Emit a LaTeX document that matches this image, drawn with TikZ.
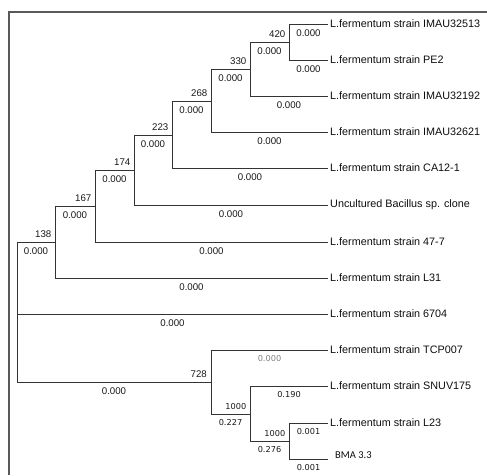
\documentclass[tikz,border=0pt]{standalone}
\usepackage{fontspec}
\setmainfont{Liberation Sans}
\newfontfamily\dvfont{DejaVu Sans}
\newfontfamily\cbfont{Carlito}
\begin{document}
\begin{tikzpicture}[x=1pt,y=-1pt,
  br/.style={draw=black!80, line width=0.9pt},
  bl/.style={pos=0.75, anchor=center, yshift=-9pt, inner sep=0pt, font=\fontsize{9.7}{10}\selectfont, text=black!90},
  bld/.style={pos=0.75, anchor=center, yshift=-9pt, inner sep=0pt, font=\dvfont\fontsize{8.2}{9}\selectfont, text=black!90},
  bs/.style={anchor=east, xshift=-3.5pt, yshift=7.5pt, inner sep=0pt, font=\fontsize{9.7}{10}\selectfont, text=black!90},
  bsd/.style={anchor=east, xshift=-3.5pt, yshift=7.5pt, inner sep=0pt, font=\dvfont\fontsize{8.2}{9}\selectfont, text=black!90},
  leaf/.style={anchor=west, xshift=2pt, inner sep=0pt, font=\fontsize{10.8}{12}\selectfont, text=black!95}]
\useasboundingbox (0,0) rectangle (487,475);
% frame
\draw[line width=1.1pt, black!65] (487,12) -- (9,12) -- (9,475);
% internal nodes
\coordinate (n420) at (289,42);
\coordinate (n330) at (250,69);
\coordinate (n268) at (211,101);
\coordinate (n223) at (172,135);
\coordinate (n174) at (134,170);
\coordinate (n167) at (95,206);
\coordinate (n138) at (55,242);
\coordinate (root) at (17,314);
\coordinate (n728) at (211,382);
\coordinate (na) at (250,414);
\coordinate (nb) at (289,441);
% leaves
\coordinate (l1) at (328,24);
\coordinate (l2) at (328,60);
\coordinate (l3) at (328,96);
\coordinate (l4) at (328,132);
\coordinate (l5) at (328,168);
\coordinate (l6) at (328,205);
\coordinate (l7) at (328,242);
\coordinate (l8) at (328,278);
\coordinate (l9) at (328,314);
\coordinate (l10) at (328,350);
\coordinate (l11) at (328,386);
\coordinate (l12) at (328,423);
\coordinate (l13) at (328,459);
% leaf labels
\node[leaf] (t1) at (l1) {L.fermentum strain IMAU32513};
\node[leaf] (t2) at (l2) {L.fermentum strain PE2};
\node[leaf] (t3) at (l3) {L.fermentum strain IMAU32192};
\node[leaf] (t4) at (l4) {L.fermentum strain IMAU32621};
\node[leaf] (t5) at (l5) {L.fermentum strain CA12-1};
\node[leaf] (t6) at (l6) {Uncultured Bacillus sp. clone};
\node[leaf] (t7) at (l7) {L.fermentum strain 47-7};
\node[leaf] (t8) at (l8) {L.fermentum strain L31};
\node[leaf] (t9) at (l9) {L.fermentum strain 6704};
\node[leaf] (t10) at (l10) {L.fermentum strain TCP007};
\node[leaf] (t11) at (l11) {L.fermentum strain SNUV175};
\node[leaf] (t12) at (l12) {L.fermentum strain L23};
\node[leaf, xshift=5pt, yshift=4pt, font=\cbfont\fontsize{10.5}{12}\selectfont] (t13) at (l13) {BMA 3.3};
% branches
\path[br] (n420) |- node[bl] {0.000} (l1);
\path[br] (n420) |- node[bl] {0.000} (l2);
\path[br] (n330) |- node[bl] {0.000} (n420);
\path[br] (n330) |- node[bl] {0.000} (l3);
\path[br] (n268) |- node[bl] {0.000} (n330);
\path[br] (n268) |- node[bl] {0.000} (l4);
\path[br] (n223) |- node[bl] {0.000} (n268);
\path[br] (n223) |- node[bl] {0.000} (l5);
\path[br] (n174) |- node[bl] {0.000} (n223);
\path[br] (n174) |- node[bl] {0.000} (l6);
\path[br] (n167) |- node[bl] {0.000} (n174);
\path[br] (n167) |- node[bl] {0.000} (l7);
\path[br] (n138) |- node[bl] {0.000} (n167);
\path[br] (n138) |- node[bl] {0.000} (l8);
\path[br] (root) |- node[bl] {0.000} (n138);
\path[br] (root) |- node[bl] {0.000} (l9);
\path[br] (root) |- node[bl] {0.000} (n728);
\path[br] (n728) |- node[bld, text=black!50] {0.000} (l10);
\path[br] (n728) |- node[bld] {0.227} (na);
\path[br] (na) |- node[bld] {0.190} (l11);
\path[br] (na) |- node[bld] {0.276} (nb);
\path[br] (nb) |- node[bld] {0.001} (l12);
\path[br] (nb) |- node[bld] {0.001} (l13);
% bootstrap values
\node[bs] (b420) at (n420) {420};
\node[bs] (b330) at (n330) {330};
\node[bs] (b268) at (n268) {268};
\node[bs] (b223) at (n223) {223};
\node[bs] (b174) at (n174) {174};
\node[bs] (b167) at (n167) {167};
\node[bs] (b138) at (n138) {138};
\node[bs, xshift=-0.5pt] (b728) at (n728) {728};
\node[bsd] (ba) at (na) {1000};
\node[bsd] (bb) at (nb) {1000};
\end{tikzpicture}
\end{document}
